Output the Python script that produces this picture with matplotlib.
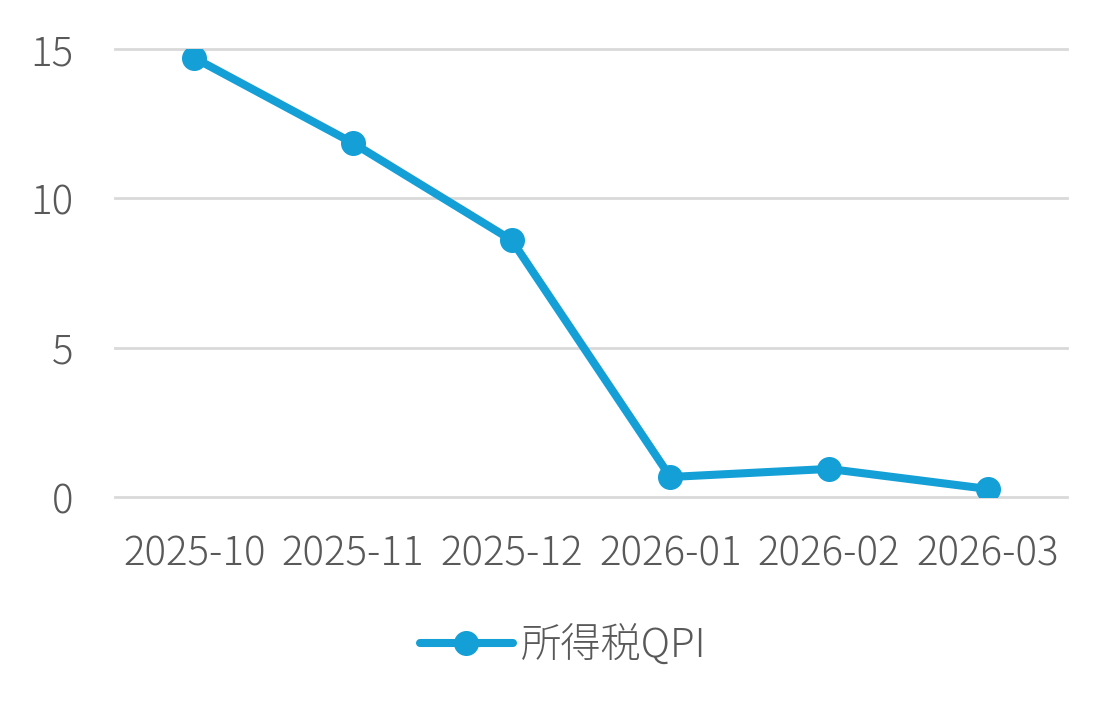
import matplotlib
matplotlib.use("Agg")
import matplotlib.pyplot as plt

# data
months = ["2025-10", "2025-11", "2025-12", "2026-01", "2026-02", "2026-03"]
qpi = [14.70, 11.85, 8.60, 0.67, 0.94, 0.27]
series_name = "所得税QPI"
yticks = [0, 5, 10, 15]

plt.rcParams['font.family'] = ['Noto Sans CJK JP', 'DejaVu Sans']
plt.rcParams['font.weight'] = 'light'

fig = plt.figure(figsize=(11.17, 7.15), dpi=100)
ax = fig.add_axes([115 / 1117, 1 - 497 / 715, (1067 - 115) / 1117, (497 - 49) / 715])

x = list(range(len(months)))
ax.plot(x, qpi, color='#149fd6', lw=5.8, marker='o', markersize=17,
        solid_capstyle='round', label=series_name)

ax.set_xlim(-0.5, len(months) - 0.5)
ax.set_ylim(0, 15)
ax.set_yticks(yticks)
ax.set_xticks(x)
ax.set_xticklabels(months)
ax.grid(axis='y', color='#d9d9d9', lw=2)
for gl in ax.get_ygridlines():
    gl.set_clip_on(False)
ax.set_axisbelow(True)
for s in ax.spines.values():
    s.set_visible(False)
ax.tick_params(length=0, labelsize=29, colors='#595959')
ax.tick_params(axis='y', pad=30)
ax.tick_params(axis='x', pad=26)

leg = fig.legend(loc='center', bbox_to_anchor=(563 / 1117, 1 - 646 / 715), frameon=False,
                 fontsize=29, handlelength=2.3, handletextpad=0.2)
for t in leg.get_texts():
    t.set_color('#595959')

fig.savefig("out.png", dpi=100)
